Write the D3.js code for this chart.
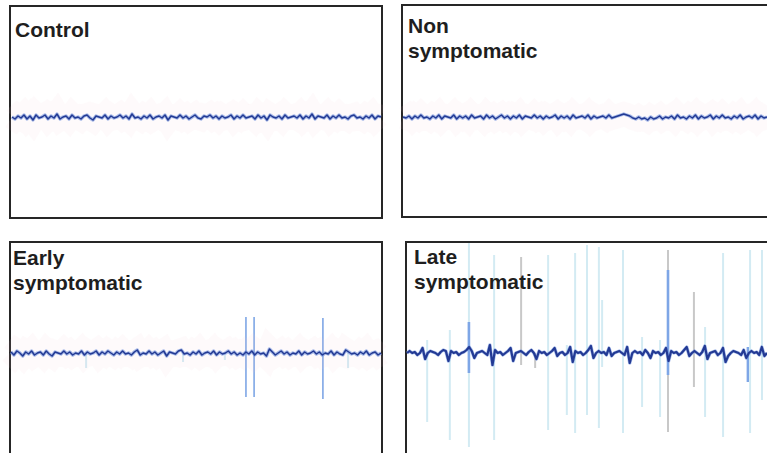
<!DOCTYPE html>
<html>
<head>
<meta charset="utf-8">
<script src="https://cdn.jsdelivr.net/npm/d3@7"></script>
<style>
  html, body { margin: 0; padding: 0; background: #fff; overflow: hidden; }
  .label { font-family: "Liberation Sans", Arial, sans-serif; font-weight: bold; font-size: 21px; fill: #1e1e1e; }
</style>
</head>
<body>
<svg id="chart" width="767" height="453"></svg>
<script>
// ------- Data -------

const groupNames = ['Control', 'Non symptomatic', 'Early symptomatic', 'Late symptomatic'];
const groupLabels = [['Control'], ['Non', 'symptomatic'], ['Early', 'symptomatic'], ['Late', 'symptomatic']];

// baseline traces, amplitude in px-like units (0 = baseline), evenly spaced over 0..1000 ms
const controlTrace = [0,-2,1,-1,2,-2,1,-3,2,-1,0,2,-2,1,-1,3,-2,0,1,-2,2,-1,0,-2,1,2,-1,-3,1,0,-1,2,-2,1,-1,0,2,-1,1,-2,3,-1,0,-2,1,-1,2,-2,0,1,-1,2,-3,1,0,-1,2,-1,1,-2,0,2,-1,-2,1,0,2,-1,1,-2,1,-1,0,2,-2,1,-1,2,-1,0,1,-2,2,-1,1,-3,2,0,-1,1,-2,2,-1,0,1,-1,2,-2,1,-1,3,-2,1,0,-1,2,-2,1,-1,2,-1,0,-2,1,2,-1,0,-2,1,-1,2,-2,1,0];
const nonSympTrace = [0,-1,1,-2,1,-1,2,-1,0,-2,1,-1,2,-2,1,0,-1,2,-2,1,-1,1,-2,2,-1,0,1,-2,2,-1,1,-2,0,2,-1,1,-2,1,-1,2,-2,1,0,-1,2,-1,1,-2,1,-1,0,2,-2,1,-1,1,-2,2,-1,0,1,-1,2,-2,1,-1,0,1,-1,2,-1,0,1,2,3,2,1,-1,-2,0,-2,-1,-3,0,-2,-1,1,-2,0,-1,1,-2,2,-1,0,-2,1,-1,2,-2,1,-1,0,2,-2,1,-1,2,-1,0,-2,1,-1,2,-2,0,1,-1,2,-2,1,-1,0];
const earlyTrace = [1,-2,2,0,-3,1,-1,2,-2,0,1,-2,2,-1,-3,1,0,-1,2,-1,1,-2,0,-1,2,-2,1,-1,0,2,-2,1,-1,2,0,-2,1,-1,2,-1,0,-2,1,3,-2,0,-1,2,-1,1,-2,0,2,-3,1,0,-1,2,3,-1,0,-2,1,-1,2,-2,0,1,-1,2,-2,1,-1,0,2,-1,1,-2,0,-2,1,-1,2,-2,1,-1,0,-3,4,1,-2,0,2,-1,1,-2,0,-1,2,-2,1,-1,0,2,-1,1,-2,0,-1,2,-2,1,-1,-2,3,1,-1,0,-2,1,-1,2,-2,0,1,-2,0];
const lateTrace = [
    0,2,0,1,-2, 0,5,-6,0,2, 1,0,-2,1,3, 2,-8,2,0,1,
    -2,0,1,3,6, 2,-5,0,1,2, 0,-2,8,-12,3, 0,1,-2,0,2,
    5,-8,0,1,2, 0,-2,1,3,0, -6,2,0,1,-2, 0,2,5,-3,0,
    1,-2,0,6,-9, 2,0,1,-2,0, 3,7,-5,0,2, 0,1,-2,5,-3,
    0,1,2,0,-2, 6,-10,0,2,0, 1,-2,3,0,-5, 2,0,1,-2,0,
    5,-8,2,0,1, -2,0,3,6,-3, 0,2,0,-2,1, 7,-6,0,1,2,
    -2,0,5,-9,-3, 0,2,1,0,-2, 3,-5,0,2,0, 1,-2,6,-3,0
];

// vertical transients: time (ms), top and bottom amplitude, tone
const earlySpikeTimes = [203, 465, 578, 635, 657, 843, 911];
const earlySpikeTops  = [0, 0, 0, 36, 36, 35, 0];
const earlySpikeBots  = [-15, -9, -7, -44, -44, -46, -15];
const earlySpikeTones = ['pale', 'pale', 'pale', 'mid', 'mid', 'mid', 'pale'];

const lateSpikeTimes = [56, 119, 172, 172, 242, 317, 356, 392, 444, 467, 500, 533, 542, 600, 653, 703, 725, 725, 797, 828, 878, 947, 953, 986];
const lateSpikeTops  = [13, 23, 110, 31, 98, 96, 0, 98, 8, 100, 108, 106, 53, 103, 16, 13, 103, 83, 61, 26, 100, 6, 103, 103];
const lateSpikeBots  = [-69, -87, -94, -20, -87, -12, -15, -77, -62, -80, -62, -75, -14, -80, -54, -64, -79, -22, -34, -64, -84, -29, -80, -47];
const lateSpikeTones = ['pale', 'pale', 'pale', 'mid', 'pale', 'grey', 'grey', 'pale', 'pale', 'pale', 'pale', 'pale', 'pale', 'pale', 'pale', 'pale', 'grey', 'mid', 'grey', 'pale', 'pale', 'mid', 'pale', 'pale'];

const traces = [controlTrace, nonSympTrace, earlyTrace, lateTrace];
const spikeSets = [
    [],
    [],
    earlySpikeTimes.map((t, i) => ({t, top: earlySpikeTops[i], bot: earlySpikeBots[i], tone: earlySpikeTones[i]})),
    lateSpikeTimes.map((t, i) => ({t, top: lateSpikeTops[i], bot: lateSpikeBots[i], tone: lateSpikeTones[i]}))
];

// ------- Layout -------

const panels = [
    {x: 10,  y: 6,   w: 372, h: 212, cy: 117, x0: 12,  x1: 381, lx: 15,  ly: 37},
    {x: 402, y: 5,   w: 380, h: 212, cy: 117, x0: 403, x1: 767, lx: 408, ly: 33},
    {x: 10,  y: 242, w: 372, h: 240, cy: 353, x0: 11,  x1: 381, lx: 13,  ly: 265},
    {x: 406, y: 242, w: 380, h: 240, cy: 353, x0: 407, x1: 767, lx: 414, ly: 264}
];

const toneColour = {pale: '#d3ebf3', grey: '#c8c8c8', mid: '#7ea6e6'};
const toneWidth = {pale: 2, grey: 2, mid: 1.6};

const svg = d3.select('#chart');

panels.forEach((p, k) => {
    const trace = traces[k];
    const late = k === 3;
    const g = svg.append('g').attr('class', 'panel').attr('id', 'panel-' + k);

    const x = d3.scaleLinear().domain([0, 1000]).range([p.x0, p.x1]);
    const y = d3.scaleLinear().domain([-100, 100]).range([p.cy + 100, p.cy - 100]);
    const step = 1000 / (trace.length - 1);

    const line = d3.line()
        .x((d, i) => x(i * step))
        .y(d => y(d));

    // ------- frame -------
    g.append('rect')
        .attr('x', p.x)
        .attr('y', p.y)
        .attr('width', p.w)
        .attr('height', p.h)
        .attr('fill', '#fff')
        .attr('stroke', '#262626')
        .attr('stroke-width', 2);

    // ------- transients -------
    g.selectAll('line.spike')
        .data(spikeSets[k])
        .enter()
        .append('line')
            .attr('class', 'spike')
            .attr('x1', d => x(d.t))
            .attr('x2', d => x(d.t))
            .attr('y1', d => y(d.top))
            .attr('y2', d => y(d.bot))
            .attr('stroke', d => toneColour[d.tone])
            .attr('stroke-width', d => late && d.tone === 'mid' ? 2.6 : toneWidth[d.tone]);

    // ------- trace: pink haze, blue fuzz, dark core -------
    if (!late) {
        g.append('path')
            .datum(trace)
            .attr('d', line)
            .attr('fill', 'none')
            .attr('stroke', '#f4c9d8')
            .attr('stroke-width', 24)
            .attr('opacity', 0.09);
    }

    g.append('path')
        .datum(trace)
        .attr('d', line)
        .attr('fill', 'none')
        .attr('stroke', '#6e8fdc')
        .attr('stroke-width', 3.4)
        .attr('stroke-linejoin', 'round')
        .attr('opacity', 0.6);

    g.append('path')
        .datum(trace)
        .attr('d', line)
        .attr('fill', 'none')
        .attr('stroke', '#233a94')
        .attr('stroke-width', late ? 2.2 : 1.5)
        .attr('stroke-linejoin', 'round');

    // ------- label -------
    const label = g.append('text')
        .attr('class', 'label')
        .attr('x', p.lx)
        .attr('y', p.ly);

    label.selectAll('tspan')
        .data(groupLabels[k])
        .enter()
        .append('tspan')
            .attr('x', p.lx)
            .attr('dy', (d, i) => i === 0 ? 0 : 25)
            .text(d => d);
});
</script>
</body>
</html>
